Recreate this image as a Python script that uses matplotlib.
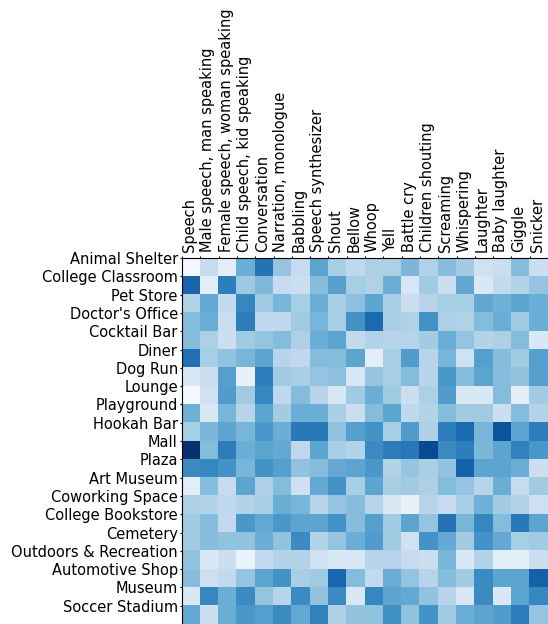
import numpy as np
import matplotlib
matplotlib.use('Agg')
import matplotlib.pyplot as plt

## Labels

places = ['Animal Shelter', 'College Classroom', 'Pet Store', "Doctor's Office",
          'Cocktail Bar', 'Diner', 'Dog Run', 'Lounge', 'Playground', 'Hookah Bar',
          'Mall', 'Plaza', 'Art Museum', 'Coworking Space', 'College Bookstore',
          'Cemetery', 'Outdoors & Recreation', 'Automotive Shop', 'Museum',
          'Soccer Stadium']

sounds = ['Speech', 'Male speech, man speaking', 'Female speech, woman speaking',
          'Child speech, kid speaking', 'Conversation', 'Narration, monologue',
          'Babbling', 'Speech synthesizer', 'Shout', 'Bellow', 'Whoop', 'Yell',
          'Battle cry', 'Children shouting', 'Screaming', 'Whispering', 'Laughter',
          'Baby laughter', 'Giggle', 'Snicker']

## Values (one row per place)

animal_shelter    = [0.02, 0.24, 0.10, 0.50, 0.74, 0.40, 0.25, 0.55, 0.35, 0.27, 0.33, 0.33, 0.46, 0.32, 0.43, 0.36, 0.20, 0.22, 0.44, 0.22]
college_classroom = [0.80, 0.10, 0.70, 0.38, 0.45, 0.25, 0.22, 0.43, 0.56, 0.35, 0.32, 0.50, 0.16, 0.37, 0.22, 0.53, 0.15, 0.26, 0.31, 0.40]
pet_store         = [0.31, 0.52, 0.26, 0.67, 0.37, 0.47, 0.35, 0.50, 0.35, 0.42, 0.54, 0.35, 0.22, 0.30, 0.35, 0.35, 0.53, 0.49, 0.54, 0.50]
doctors_office    = [0.44, 0.50, 0.23, 0.70, 0.27, 0.27, 0.37, 0.47, 0.34, 0.62, 0.78, 0.34, 0.32, 0.62, 0.33, 0.32, 0.44, 0.50, 0.37, 0.50]
cocktail_bar      = [0.43, 0.33, 0.22, 0.37, 0.40, 0.44, 0.33, 0.50, 0.54, 0.26, 0.31, 0.30, 0.30, 0.36, 0.50, 0.40, 0.31, 0.33, 0.44, 0.15]
diner             = [0.75, 0.35, 0.41, 0.47, 0.54, 0.30, 0.27, 0.44, 0.44, 0.54, 0.10, 0.35, 0.58, 0.30, 0.47, 0.20, 0.57, 0.43, 0.37, 0.57]
dog_run           = [0.16, 0.23, 0.57, 0.08, 0.70, 0.37, 0.34, 0.40, 0.42, 0.16, 0.40, 0.35, 0.44, 0.30, 0.60, 0.43, 0.54, 0.43, 0.41, 0.57]
lounge            = [0.02, 0.20, 0.58, 0.37, 0.67, 0.27, 0.44, 0.30, 0.15, 0.37, 0.50, 0.37, 0.22, 0.33, 0.58, 0.15, 0.15, 0.44, 0.10, 0.37]
playground        = [0.49, 0.15, 0.47, 0.30, 0.54, 0.36, 0.50, 0.50, 0.34, 0.23, 0.44, 0.54, 0.27, 0.31, 0.44, 0.37, 0.37, 0.22, 0.44, 0.31]
hookah_bar        = [0.35, 0.46, 0.54, 0.47, 0.60, 0.50, 0.72, 0.72, 0.41, 0.57, 0.62, 0.35, 0.58, 0.33, 0.70, 0.78, 0.47, 0.86, 0.54, 0.70]
mall              = [1.00, 0.44, 0.71, 0.50, 0.54, 0.52, 0.27, 0.54, 0.35, 0.31, 0.65, 0.71, 0.73, 0.90, 0.65, 0.70, 0.46, 0.54, 0.69, 0.60]
plaza             = [0.65, 0.67, 0.62, 0.47, 0.62, 0.57, 0.41, 0.44, 0.52, 0.54, 0.60, 0.31, 0.40, 0.34, 0.41, 0.81, 0.54, 0.54, 0.50, 0.22]
art_museum        = [0.10, 0.43, 0.25, 0.54, 0.33, 0.44, 0.21, 0.52, 0.62, 0.35, 0.54, 0.34, 0.37, 0.33, 0.44, 0.40, 0.30, 0.50, 0.25, 0.37]
coworking_space   = [0.33, 0.31, 0.27, 0.31, 0.34, 0.50, 0.47, 0.30, 0.40, 0.43, 0.30, 0.15, 0.08, 0.30, 0.25, 0.35, 0.49, 0.36, 0.31, 0.21]
college_bookstore = [0.37, 0.43, 0.26, 0.60, 0.52, 0.60, 0.54, 0.54, 0.62, 0.43, 0.57, 0.37, 0.54, 0.40, 0.74, 0.47, 0.67, 0.44, 0.72, 0.54]
cemetery          = [0.36, 0.43, 0.41, 0.41, 0.50, 0.41, 0.65, 0.31, 0.40, 0.50, 0.58, 0.37, 0.20, 0.62, 0.52, 0.36, 0.62, 0.52, 0.35, 0.37]
outdoors          = [0.41, 0.15, 0.22, 0.07, 0.26, 0.31, 0.31, 0.20, 0.15, 0.15, 0.30, 0.30, 0.25, 0.23, 0.47, 0.15, 0.31, 0.10, 0.10, 0.22]
automotive_shop   = [0.43, 0.21, 0.26, 0.40, 0.54, 0.62, 0.35, 0.37, 0.79, 0.44, 0.26, 0.50, 0.40, 0.30, 0.44, 0.36, 0.65, 0.54, 0.54, 0.81]
museum            = [0.15, 0.67, 0.50, 0.65, 0.40, 0.30, 0.65, 0.41, 0.65, 0.15, 0.67, 0.54, 0.52, 0.41, 0.30, 0.16, 0.65, 0.15, 0.54, 0.67]
soccer_stadium    = [0.52, 0.22, 0.50, 0.60, 0.57, 0.65, 0.52, 0.69, 0.33, 0.41, 0.41, 0.63, 0.41, 0.62, 0.37, 0.50, 0.54, 0.58, 0.71, 0.40]

data = np.array([animal_shelter, college_classroom, pet_store, doctors_office,
                 cocktail_bar, diner, dog_run, lounge, playground, hookah_bar,
                 mall, plaza, art_museum, coworking_space, college_bookstore,
                 cemetery, outdoors, automotive_shop, museum, soccer_stadium])

######################################################

fig = plt.figure(figsize=(5.48, 6.24), dpi=100)
ax = fig.add_axes([182/548., 0, 1 - 182/548., 366/624.])

ax.pcolor(data, cmap='Blues', vmin=0, vmax=1)
ax.set_xlim(0, data.shape[1])
ax.set_ylim(0, data.shape[0])
ax.invert_yaxis()

# ticks sit on cell edges, not centres
ax.set_yticks(np.arange(data.shape[0]))
ax.set_yticklabels(places, fontsize=10.5)
ax.xaxis.tick_top()
ax.set_xticks(np.arange(data.shape[1]))
ax.set_xticklabels(sounds, fontsize=10.5, rotation=90, ha='left')
ax.tick_params(axis='y', length=1.5, pad=1.5)
ax.tick_params(axis='x', length=1.5, pad=2.5)

ax.spines['right'].set_visible(False)
ax.spines['bottom'].set_visible(False)

plt.savefig('out.png', dpi=100)
